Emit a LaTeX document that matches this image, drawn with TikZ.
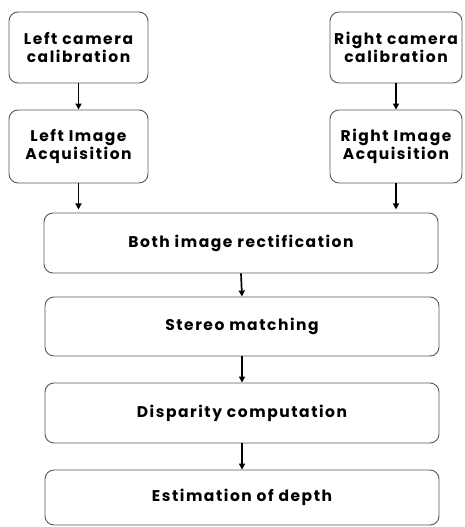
\documentclass[tikz,border=0pt]{standalone}
\usepackage{fontspec}
\setmainfont{Poppins}[LetterSpace=10]
\usetikzlibrary{arrows.meta}
\begin{document}
\begin{tikzpicture}[x=1pt,y=-1pt,
  stage/.style={draw=black!65,line width=0.9pt,rounded corners=9pt,fill=white,
    align=center,font=\fontsize{15.5}{18}\selectfont\bfseries,inner sep=0pt},
  flow/.style={-{Triangle[length=6pt,width=6pt]},line width=1.7pt,black}]
  \useasboundingbox (0,0) rectangle (465,527);
  % camera branches
  \node[stage,minimum width=139pt,minimum height=71pt] (lcal) at (78.5,47.5) {Left camera\\calibration};
  \node[stage,minimum width=139pt,minimum height=73pt] (lacq) at (78.5,146.5) {Left Image\\Acquisition};
  \node[stage,minimum width=132pt,minimum height=71pt] (rcal) at (396,47.5) {Right camera\\calibration};
  \node[stage,minimum width=132pt,minimum height=73pt] (racq) at (396,146.5) {Right Image\\Acquisition};
  % common pipeline
  \node[stage,minimum width=394pt,minimum height=60pt] (rect) at (241,243) {Both image rectification};
  \node[stage,minimum width=394pt,minimum height=59pt] (match) at (242,326.5) {Stereo matching};
  \node[stage,minimum width=394pt,minimum height=60pt] (disp) at (242,413) {Disparity computation};
  \node[stage,minimum width=394pt,minimum height=55pt] (depth) at (242,497.5) {Estimation of depth};
  % connectors
  \draw[flow] (lcal.south) -- (lacq.north);
  \draw[flow] (rcal.south) -- (racq.north);
  \draw[flow] (lacq.south) -- ++(0,26);
  \draw[flow] (racq.south) -- ++(0,26);
  \draw[flow] (rect.south) -- (match.north);
  \draw[flow] (match.south) -- (disp.north);
  \draw[flow] (disp.south) -- (depth.north);
\end{tikzpicture}
\end{document}
